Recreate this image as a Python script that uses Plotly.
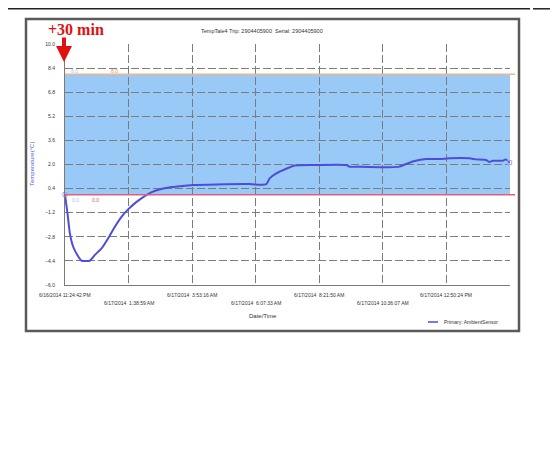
import plotly.graph_objects as go
from datetime import datetime, timedelta

# ---- data ----
times = [
    "2014-06-16 23:24:42", "2014-06-16 23:30:00", "2014-06-16 23:35:00", "2014-06-16 23:42:00",
    "2014-06-16 23:53:00", "2014-06-17 00:00:00", "2014-06-17 00:17:00", "2014-06-17 00:28:00",
    "2014-06-17 00:42:00", "2014-06-17 00:56:00", "2014-06-17 01:10:00", "2014-06-17 01:24:00",
    "2014-06-17 01:38:00", "2014-06-17 01:52:00", "2014-06-17 02:06:00", "2014-06-17 02:20:00",
    "2014-06-17 02:34:00", "2014-06-17 02:55:00", "2014-06-17 03:13:00", "2014-06-17 03:34:00",
    "2014-06-17 03:55:00", "2014-06-17 04:45:00", "2014-06-17 05:55:00", "2014-06-17 06:16:00",
    "2014-06-17 06:30:00", "2014-06-17 06:37:00", "2014-06-17 06:51:00", "2014-06-17 07:12:00",
    "2014-06-17 07:30:00", "2014-06-17 08:09:00", "2014-06-17 09:19:00", "2014-06-17 09:26:00",
    "2014-06-17 09:47:00", "2014-06-17 10:29:00", "2014-06-17 10:50:00", "2014-06-17 11:11:00",
    "2014-06-17 11:25:00", "2014-06-17 11:43:00", "2014-06-17 12:08:00", "2014-06-17 12:36:00",
    "2014-06-17 12:57:00", "2014-06-17 13:39:00", "2014-06-17 13:53:00", "2014-06-17 14:14:00",
    "2014-06-17 14:21:00", "2014-06-17 14:28:00", "2014-06-17 14:49:00", "2014-06-17 14:56:00",
    "2014-06-17 15:04:00",
]
temps = [
    0.0, -1.24, -2.57, -3.46,
    -4.12, -4.39, -4.39, -4.0,
    -3.57, -2.9, -2.13, -1.47,
    -0.98, -0.58, -0.25, 0.04,
    0.24, 0.42, 0.50, 0.57,
    0.64, 0.68, 0.70, 0.66,
    0.70, 1.08, 1.41, 1.72,
    1.93, 1.97, 1.97, 1.85,
    1.85, 1.82, 1.82, 1.86,
    2.03, 2.23, 2.36, 2.36,
    2.41, 2.41, 2.34, 2.30,
    2.17, 2.25, 2.25, 2.34,
    2.12,
]
tick_labels = [
    "6/16/2014 11:24:42 PM", "6/17/2014 \u00a01:38:59 AM", "6/17/2014 \u00a03:53:16 AM",
    "6/17/2014 \u00a06:07:33 AM", "6/17/2014 \u00a08:21:50 AM", "6/17/2014 10:36:07 AM",
    "6/17/2014 12:50:24 PM", "",
]
tick_start = "2014-06-16 23:24:42"
tick_step_seconds = 8057
upper_limit = 8.0
lower_limit = 0.0
title_text = "TempTale4 Trip: 2904405900  Serial: 2904405900"
series_name = "Primary: AmbientSensor"

# ---- layout geometry (pixels in the page; the page body adds an 8px offset) ----
OFF = 8
W, H = 558 - OFF, 452 - OFF
PL, PR, PT, PB = 65, 510, 44, 285


def px(x):
    return (x - PL) / (PR - PL)


def py(y):
    return (PB - y) / (PB - PT)


t0 = datetime.strptime(tick_start, "%Y-%m-%d %H:%M:%S")
tickvals = [t0 + timedelta(seconds=tick_step_seconds * i) for i in range(len(tick_labels))]

FONT = "Arial, Liberation Sans, sans-serif"
LINE_COLOR = "#4d4ddb"
GRID = "#7c7c7c"
DASH = "8px,3px"

fig = go.Figure()
fig.add_trace(go.Scatter(
    x=times, y=temps, mode="lines", name=series_name,
    line=dict(color=LINE_COLOR, width=2, shape="spline", smoothing=0.5), showlegend=False,
))
fig.add_trace(go.Scatter(
    x=[times[0], times[-1]], y=[temps[0], temps[-1]], mode="markers",
    marker=dict(symbol="square-open", size=4, color="#a9a0ee", line=dict(width=1)),
    showlegend=False, hoverinfo="skip", cliponaxis=False,
))

shapes = []
shapes.append(dict(type="rect", xref="paper", yref="y", x0=0, x1=1,
                   y0=lower_limit, y1=upper_limit, fillcolor="#99c9f7",
                   line=dict(width=0), layer="below"))
shapes.append(dict(type="line", xref="paper", yref="y", x0=0, x1=px(515),
                   y0=upper_limit, y1=upper_limit, line=dict(color="#f7b27e", width=1.5)))
shapes.append(dict(type="line", xref="paper", yref="y", x0=0, x1=px(515),
                   y0=lower_limit, y1=lower_limit, line=dict(color="#e0607a", width=1.5)))
shapes.append(dict(type="rect", xref="paper", yref="paper", x0=px(26), x1=px(519),
                   y0=py(331), y1=py(19), line=dict(color="#5a5a5a", width=2.5)))
shapes.append(dict(type="line", xref="paper", yref="paper", x0=px(7), x1=px(530),
                   y0=py(8.8), y1=py(8.8), line=dict(color="#222", width=1.5)))
shapes.append(dict(type="line", xref="paper", yref="paper", x0=px(533), x1=px(558),
                   y0=py(8.8), y1=py(8.8), line=dict(color="#222", width=1.5)))
shapes.append(dict(type="line", xref="paper", yref="paper", x0=px(428), x1=px(438),
                   y0=py(322), y1=py(322), line=dict(color=LINE_COLOR, width=1.5)))

annotations = []
for i, (tv, lab) in enumerate(zip(tickvals, tick_labels)):
    if not lab:
        continue
    annotations.append(dict(x=tv, xref="x", y=py(295 if i % 2 == 0 else 303), yref="paper",
                            text=lab, showarrow=False, xanchor="center", yanchor="middle",
                            font=dict(size=5, color="#333", family=FONT)))
for val, xs, cols, yy in [
    (upper_limit, [74, 114], ["#9cc8ee", "#f08a5a"], 71),
    (lower_limit, [75, 95], ["#9cc8ee", "#e0506a"], 200),
]:
    for xx, c in zip(xs, cols):
        annotations.append(dict(x=px(xx), xref="paper", y=py(yy), yref="paper",
                                text=f"{val:.1f}", showarrow=False, xanchor="center",
                                yanchor="middle", font=dict(size=5, color=c, family=FONT)))
annotations.append(dict(x=px(262), xref="paper", y=py(31), yref="paper", text=title_text,
                        showarrow=False, xanchor="center", yanchor="middle",
                        font=dict(size=5.5, color="#333", family=FONT)))
annotations.append(dict(x=px(263), xref="paper", y=py(316), yref="paper", text="Date/Time",
                        showarrow=False, xanchor="center", yanchor="middle",
                        font=dict(size=6, color="#333", family=FONT)))
annotations.append(dict(x=px(32), xref="paper", y=py(164), yref="paper", text="Temperature(°C)",
                        textangle=-90, showarrow=False, xanchor="center", yanchor="middle",
                        font=dict(size=6, color="#5b5be0", family=FONT)))
annotations.append(dict(x=px(442), xref="paper", y=py(322), yref="paper", text=series_name,
                        showarrow=False, xanchor="left", yanchor="middle",
                        font=dict(size=5, color="#333", family=FONT)))
annotations.append(dict(x=px(76), xref="paper", y=py(29), yref="paper", text="<b>+30 min</b>",
                        showarrow=False, xanchor="center", yanchor="middle",
                        font=dict(size=16, color="#e01010", family="Liberation Serif, Times New Roman, serif")))
annotations.append(dict(x=px(64), xref="paper", y=py(62), yref="paper", text="",
                        showarrow=True, ax=0, ay=-26, arrowhead=2, arrowsize=0.8,
                        arrowwidth=4, arrowcolor="#e01010", standoff=0))

fig.update_layout(
    width=W, height=H,
    margin=dict(l=PL - OFF, r=(W + OFF) - PR, t=PT - OFF, b=(H + OFF) - PB),
    paper_bgcolor="white", plot_bgcolor="white",
    shapes=shapes, annotations=annotations,
    showlegend=False,
    font=dict(family=FONT, size=5, color="#333"),
)
fig.update_xaxes(
    type="date", range=[tickvals[0], tickvals[-1]],
    tickmode="array", tickvals=tickvals, showticklabels=False,
    showgrid=True, gridcolor=GRID, gridwidth=1, griddash=DASH,
    showline=True, linecolor="#7a7a7a", linewidth=1, zeroline=False,
)
fig.update_yaxes(
    range=[-6, 10], tickmode="linear", tick0=-6, dtick=1.6, tickformat=".1f",
    showgrid=True, gridcolor=GRID, gridwidth=1, griddash=DASH,
    showline=True, linecolor="#7a7a7a", linewidth=1, zeroline=False,
    ticks="", ticklabelstandoff=8, tickfont=dict(size=5, color="#333", family=FONT),
)

fig.write_html("out.html")
